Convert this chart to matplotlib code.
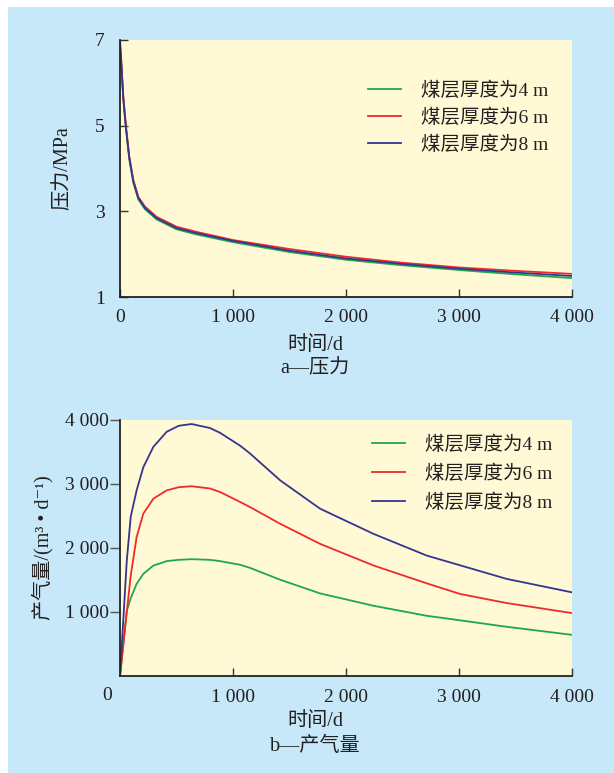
import matplotlib
matplotlib.use("Agg")
import matplotlib.pyplot as plt
from matplotlib.patches import Rectangle

plt.rcParams['font.family'] = ['Liberation Serif', 'Noto Sans CJK SC', 'DejaVu Sans']

# ---- data ----
legend_labels = ["煤层厚度为4 m", "煤层厚度为6 m", "煤层厚度为8 m"]

t_pressure = [0, 9, 29, 53, 82, 118, 162, 221, 325, 501, 678, 1000, 1500, 2000, 2500, 3000, 3500, 4000]
p_4m = [6.9, 6.52, 5.62, 4.92, 4.22, 3.67, 3.28, 3.05, 2.81, 2.58, 2.46, 2.28, 2.05, 1.87, 1.74, 1.63, 1.53, 1.44]
p_6m = [6.72, 6.57, 5.68, 4.98, 4.28, 3.73, 3.34, 3.11, 2.87, 2.64, 2.52, 2.33, 2.12, 1.94, 1.80, 1.69, 1.61, 1.54]
p_8m = [7.0, 6.62, 5.65, 4.95, 4.25, 3.70, 3.31, 3.08, 2.84, 2.61, 2.49, 2.31, 2.08, 1.90, 1.77, 1.66, 1.57, 1.49]

t_gas = [0, 30, 60, 95, 147, 206, 295, 413, 520, 634, 796, 885, 1062, 1150, 1416,
         1770, 2242, 2714, 3009, 3422, 4000]
q_4m = [0, 510, 1020, 1215, 1440, 1595, 1725, 1795, 1815, 1825, 1815, 1795, 1738, 1690, 1505,
        1291, 1098, 941, 870, 769, 643]
q_6m = [0, 500, 1000, 1570, 2170, 2535, 2770, 2900, 2950, 2965, 2930, 2875, 2720, 2640, 2380,
        2065, 1728, 1448, 1282, 1140, 983]
q_8m = [0, 900, 1800, 2490, 2900, 3260, 3580, 3816, 3910, 3937, 3875, 3800, 3600, 3478, 3059,
        2615, 2222, 1882, 1730, 1517, 1307]

x_ticks = [0, 1000, 2000, 3000, 4000]
x_ticklabels = ["0", "1 000", "2 000", "3 000", "4 000"]
p_ticks = [1, 3, 5, 7]
q_ticks = [1000, 2000, 3000, 4000]
q_ticklabels = ["1 000", "2 000", "3 000", "4 000"]

colors = ["#1fa84a", "#ee2b2b", "#35358f"]
bg_blue = "#c6e8f8"
bg_yellow = "#fff9d6"
txt = "#231f20"

W, H = 614, 773
fig = plt.figure(figsize=(W / 100, H / 100), dpi=100)
fig.patch.set_facecolor("white")
fig.patches.append(Rectangle((8 / W, 0), 1 - 8 / W, 1 - 7 / H, transform=fig.transFigure,
                             facecolor=bg_blue, edgecolor="none", zorder=-10))

def px_axes(left, top, right, bottom):
    return fig.add_axes([left / W, 1 - bottom / H, (right - left) / W, (bottom - top) / H])

ax1 = px_axes(120, 40, 572, 297)
ax2 = px_axes(120, 420, 572, 676)

for ax in (ax1, ax2):
    ax.set_facecolor(bg_yellow)
    ax.spines['top'].set_visible(False)
    ax.spines['right'].set_visible(False)
    for s in ('left', 'bottom'):
        ax.spines[s].set_linewidth(1.3)
        ax.spines[s].set_color("#222222")
    ax.set_xlim(0, 4000)

# top panel
for y, c, lab in zip([p_4m, p_6m, p_8m], colors, legend_labels):
    ax1.plot(t_pressure, y, color=c, lw=1.3, label=lab, solid_joinstyle='round')
ax1.set_ylim(1, 7)
ax1.set_xticks(x_ticks)
ax1.set_xticklabels(x_ticklabels)
ax1.set_yticks(p_ticks)
ax1.tick_params(axis='both', direction='in', length=6, width=1.0, colors="#333333",
                labelcolor=txt, labelsize=14)
ax1.tick_params(axis='x', pad=9)
ax1.tick_params(axis='y', pad=11)
ax1.set_ylabel("压力/MPa", fontsize=14.5, color=txt)
ax1.yaxis.set_label_coords(-0.106, 0.5)
leg1 = ax1.legend(loc='upper left', bbox_to_anchor=(0.549, 0.84), frameon=False,
                  fontsize=14, handlelength=1.7, handletextpad=1.0, labelspacing=0.45,
                  borderpad=0, borderaxespad=0)
for t in leg1.get_texts():
    t.set_color(txt)
fig.text(315 / W, 1 - 346 / H, "时间/d", ha='center', va='center', fontsize=14.5, color=txt)
fig.text(315 / W, 1 - 369 / H, "a—压力", ha='center', va='center', fontsize=14.5, color=txt)

# bottom panel
for y, c, lab in zip([q_4m, q_6m, q_8m], colors, legend_labels):
    ax2.plot(t_gas, y, color=c, lw=1.3, label=lab, solid_joinstyle='round')
ax2.set_ylim(0, 4000)
ax2.set_xticks(x_ticks[1:])
ax2.set_xticklabels(x_ticklabels[1:])
ax2.set_yticks(q_ticks)
ax2.set_yticklabels(q_ticklabels)
ax2.tick_params(axis='x', direction='in', length=6, width=1.0, colors="#333333",
                labelcolor=txt, labelsize=14, pad=9)
ax2.tick_params(axis='y', direction='out', length=7, width=1.0, colors="#555555",
                labelcolor=txt, labelsize=14, pad=1)
ax2.annotate("0", xy=(0, 0), xycoords='data', xytext=(-13, -20), textcoords='offset pixels',
             ha='center', va='center', fontsize=14, color=txt)
ax2.set_ylabel("产气量/(m³ • d⁻¹)", fontsize=14.5, color=txt)
ax2.yaxis.set_label_coords(-0.148, 0.5)
leg2 = ax2.legend(loc='upper left', bbox_to_anchor=(0.558, 0.94), frameon=False,
                  fontsize=14, handlelength=1.7, handletextpad=1.0, labelspacing=0.55,
                  borderpad=0, borderaxespad=0)
for t in leg2.get_texts():
    t.set_color(txt)
fig.text(315 / W, 1 - 722 / H, "时间/d", ha='center', va='center', fontsize=14.5, color=txt)
fig.text(315 / W, 1 - 746 / H, "b—产气量", ha='center', va='center', fontsize=14.5, color=txt)

fig.savefig("out.png", dpi=100, facecolor=fig.get_facecolor())
